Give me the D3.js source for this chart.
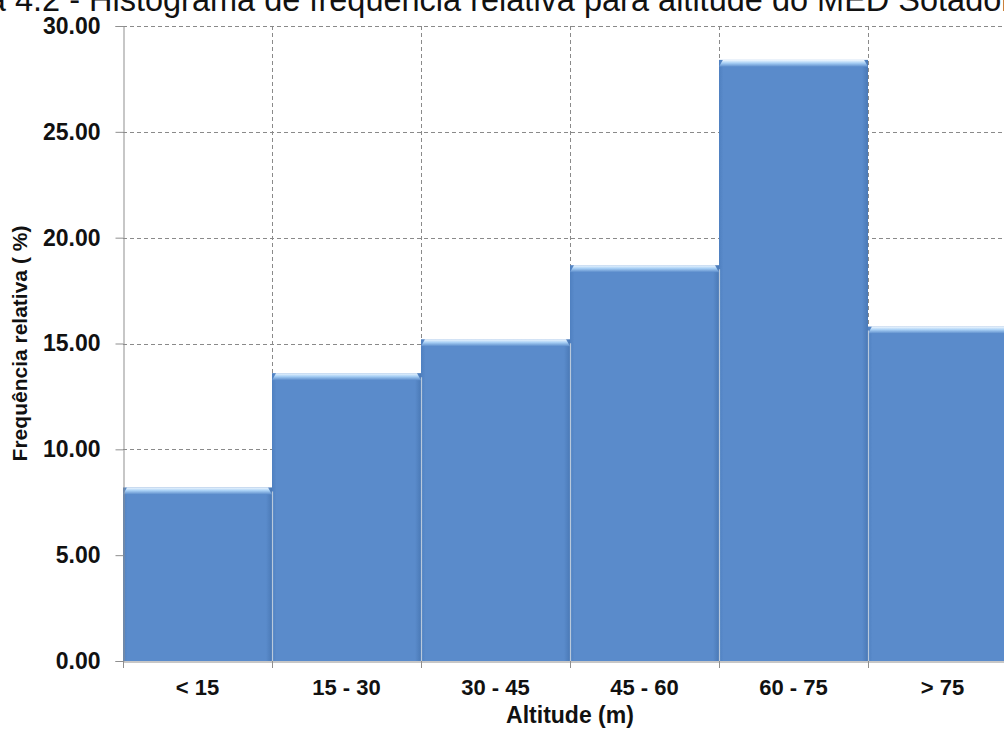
<!DOCTYPE html>
<html>
<head>
<meta charset="utf-8">
<script src="https://cdn.jsdelivr.net/npm/d3@7"></script>
<style>
  html, body { margin: 0; padding: 0; background: #fff; overflow: hidden; }
  svg { display: block; font-family: Arial, "Liberation Sans", sans-serif; }
</style>
</head>
<body>
<svg id="chart" width="1004" height="729"></svg>
<script>
// Relative frequency (%) per altitude class
const categories = ["< 15", "15 - 30", "30 - 45", "45 - 60", "60 - 75", "> 75"];
const frequencies = [8.2, 13.6, 15.2, 18.7, 28.4, 15.8];
const yTicks = [0, 5, 10, 15, 20, 25, 30];

const titleLead = "Figura 4.2 -";
const titleText = "Histograma de frequência relativa para altitude do MED Sotador";
const yTitle = "Frequência relativa ( %)";
const xTitle = "Altitude (m)";

const svg = d3.select("#chart");
const margin = { left: 123, top: 26, bottom: 661 };
// the last class runs past the right edge of the page
const plotRight = 1017;

const x = d3.scaleBand().domain(categories).range([margin.left, plotRight]).padding(0);
const y = d3.scaleLinear().domain([0, 30]).range([margin.bottom, margin.top]);

const defs = svg.append("defs");
const bevel = defs.append("linearGradient").attr("id", "bevel")
  .attr("x1", 0).attr("y1", 0).attr("x2", 0).attr("y2", 1);
bevel.append("stop").attr("offset", "0%").attr("stop-color", "#f2f9ff");
bevel.append("stop").attr("offset", "45%").attr("stop-color", "#a9d0f5");
bevel.append("stop").attr("offset", "100%").attr("stop-color", "#5b8ccb");

const side = defs.append("linearGradient").attr("id", "side")
  .attr("x1", 0).attr("y1", 0).attr("x2", 1).attr("y2", 0);
side.append("stop").attr("offset", "0%").attr("stop-color", "#4f80c0");
side.append("stop").attr("offset", "3%").attr("stop-color", "#5a8bcb");
side.append("stop").attr("offset", "96%").attr("stop-color", "#5a8bcb");
side.append("stop").attr("offset", "100%").attr("stop-color", "#4a79b6");

// Title (partly above the page top)
svg.append("text")
  .attr("x", 80).attr("y", 11)
  .attr("text-anchor", "end")
  .attr("font-size", 32.5).attr("fill", "#111")
  .text(titleLead);
svg.append("text")
  .attr("x", 89).attr("y", 11)
  .attr("font-size", 32.5).attr("fill", "#111")
  .text(titleText);

// Grid
const grid = svg.append("g").attr("stroke", "#8a8a8a").attr("stroke-width", 1)
  .attr("stroke-dasharray", "4,3");
grid.selectAll("line.h").data(yTicks.filter(d => d > 0)).join("line")
  .attr("class", "h")
  .attr("x1", margin.left).attr("x2", 1004)
  .attr("y1", d => Math.round(y(d)) + 0.5).attr("y2", d => Math.round(y(d)) + 0.5);
grid.selectAll("line.v").data(categories.slice(1)).join("line")
  .attr("class", "v")
  .attr("x1", d => Math.round(x(d)) + 0.5).attr("x2", d => Math.round(x(d)) + 0.5)
  .attr("y1", margin.top).attr("y2", margin.bottom);

// Bars
const bars = svg.append("g").selectAll("g").data(categories).join("g");
bars.append("rect")
  .attr("x", d => x(d))
  .attr("width", x.bandwidth())
  .attr("y", (d, i) => y(frequencies[i]))
  .attr("height", (d, i) => y(0) - y(frequencies[i]))
  .attr("fill", "url(#side)");
bars.append("path")
  .attr("d", (d, i) => {
    const x0 = x(d), x1 = x(d) + x.bandwidth(), t = y(frequencies[i]);
    return `M${x0},${t + 7} L${x0 + 4},${t} L${x1 - 4},${t} L${x1},${t + 7} Z`;
  })
  .attr("fill", "url(#bevel)");
// light separators between classes
svg.append("g").selectAll("line").data(categories.slice(1)).join("line")
  .attr("x1", d => Math.round(x(d)) + 0.5).attr("x2", d => Math.round(x(d)) + 0.5)
  .attr("y1", (d, i) => y(Math.min(frequencies[i], frequencies[i + 1])) + 4)
  .attr("y2", margin.bottom)
  .attr("stroke", "#b9c9dc").attr("stroke-width", 1.2);

// Y axis
const yAxis = svg.append("g")
  .attr("transform", `translate(${margin.left + 0.5},0)`)
  .call(d3.axisLeft(y).tickValues(yTicks).tickFormat(d3.format(".2f")).tickSize(8).tickPadding(15));
yAxis.select(".domain").attr("stroke", "#8f8f8f");
yAxis.selectAll(".tick line").attr("stroke", "#8f8f8f");
yAxis.selectAll(".tick text")
  .attr("font-size", 23).attr("font-weight", "bold").attr("fill", "#111")
  .attr("font-family", "Arial, 'Liberation Sans', sans-serif");

// X axis
const xAxis = svg.append("g")
  .attr("transform", `translate(0,${margin.bottom + 0.5})`)
  .call(d3.axisBottom(x).tickSize(0).tickPadding(18));
xAxis.select(".domain").attr("stroke", "#8f8f8f");
xAxis.selectAll(".tick text")
  .attr("font-size", 22).attr("font-weight", "bold").attr("fill", "#111")
  .attr("font-family", "Arial, 'Liberation Sans', sans-serif");
// boundary ticks
svg.append("g").selectAll("line").data(categories).join("line")
  .attr("x1", d => Math.round(x(d)) + 0.5).attr("x2", d => Math.round(x(d)) + 0.5)
  .attr("y1", margin.bottom).attr("y2", margin.bottom + 7)
  .attr("stroke", "#8f8f8f");

// Axis titles
svg.append("text")
  .attr("transform", `translate(27,${(margin.top + margin.bottom) / 2}) rotate(-90)`)
  .attr("text-anchor", "middle")
  .attr("font-size", 21).attr("font-weight", "bold").attr("fill", "#111")
  .text(yTitle);
svg.append("text")
  .attr("x", 570).attr("y", 723)
  .attr("text-anchor", "middle")
  .attr("font-size", 23).attr("font-weight", "bold").attr("fill", "#111")
  .text(xTitle);
</script>
</body>
</html>
